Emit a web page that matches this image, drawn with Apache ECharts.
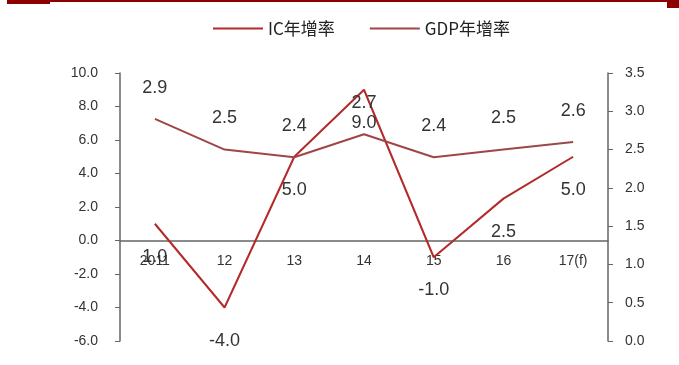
<!DOCTYPE html>
<html><head><meta charset="utf-8">
<script src="https://cdn.jsdelivr.net/npm/echarts@6/dist/echarts.min.js"></script>
<style>html,body{margin:0;padding:0;background:#fff}#c{width:679px;height:365px}</style>
</head><body><div id="c"></div>
<script>
const categories = ['2011','12','13','14','15','16','17(f)'];
const icGrowth = [1.0, -4.0, 5.0, 9.0, -1.0, 2.5, 5.0];
const gdpGrowth = [2.9, 2.5, 2.4, 2.7, 2.4, 2.5, 2.6];
const leftTicks = [-6, 10, 2];
const rightTicks = [0, 3.5, 0.5];

const chart = echarts.init(document.getElementById('c'));
const lblFont = {fontFamily:'Liberation Sans, Arial, sans-serif', color:'#333'};
chart.setOption({
  animation:false,
  graphic:[
    {type:'rect', shape:{x:7,y:0,width:670,height:2}, style:{fill:'#8B0000'}},
    {type:'rect', shape:{x:7,y:0,width:43,height:4}, style:{fill:'#8B0000'}},
    {type:'rect', shape:{x:667,y:0,width:12,height:8}, style:{fill:'#8B0000'}}
  ],
  legend:{
    top:15, left:208, itemWidth:50, itemHeight:2, itemGap:35,
    icon:'rect',
    textStyle:{fontFamily:'Noto Sans CJK SC', fontSize:17, color:'#222'},
    data:['IC年增率','GDP年增率']
  },
  grid:{left:120, right:71, top:73, bottom:24},
  xAxis:{
    type:'category', data:categories, boundaryGap:true, position:'bottom', offset:-100.5,
    axisLine:{onZero:false, lineStyle:{color:'#666', width:1.5}},
    axisTick:{inside:true, length:5, lineStyle:{color:'#666'}},
    axisLabel:Object.assign({margin:14, fontSize:14}, lblFont)
  },
  yAxis:[
    {type:'value', min:leftTicks[0], max:leftTicks[1], interval:leftTicks[2], position:'left',
     axisLine:{show:true, lineStyle:{color:'#666', width:1.5}},
     axisTick:{show:true, length:5, lineStyle:{color:'#666'}},
     splitLine:{show:false},
     axisLabel:Object.assign({margin:22, fontSize:14, formatter:v=>v.toFixed(1)}, lblFont)},
    {type:'value', min:rightTicks[0], max:rightTicks[1], interval:rightTicks[2], position:'right',
     axisLine:{show:true, lineStyle:{color:'#666', width:1.5}},
     axisTick:{show:true, length:5, lineStyle:{color:'#666'}},
     splitLine:{show:false},
     axisLabel:Object.assign({margin:17, fontSize:14, formatter:v=>v.toFixed(1)}, lblFont)}
  ],
  series:[
    {name:'IC年增率', type:'line', yAxisIndex:0, data:icGrowth, symbol:'circle', symbolSize:0.1, showSymbol:true,
     lineStyle:{color:'#B22A2A', width:2}, itemStyle:{color:'#B22A2A'},
     labelLayout:{hideOverlap:false},
     label:{show:true, position:'bottom', distance:24, formatter:p=>p.value.toFixed(1),
            fontFamily:'Liberation Sans, Arial, sans-serif', fontSize:18, color:'#333'}},
    {name:'GDP年增率', type:'line', yAxisIndex:1, data:gdpGrowth, symbol:'circle', symbolSize:0.1, showSymbol:true,
     lineStyle:{color:'#9E4648', width:2}, itemStyle:{color:'#9E4648'},
     labelLayout:{hideOverlap:false},
     label:{show:true, position:'top', distance:22, formatter:p=>p.value.toFixed(1),
            fontFamily:'Liberation Sans, Arial, sans-serif', fontSize:18, color:'#333'}}
  ]
});
</script></body></html>
